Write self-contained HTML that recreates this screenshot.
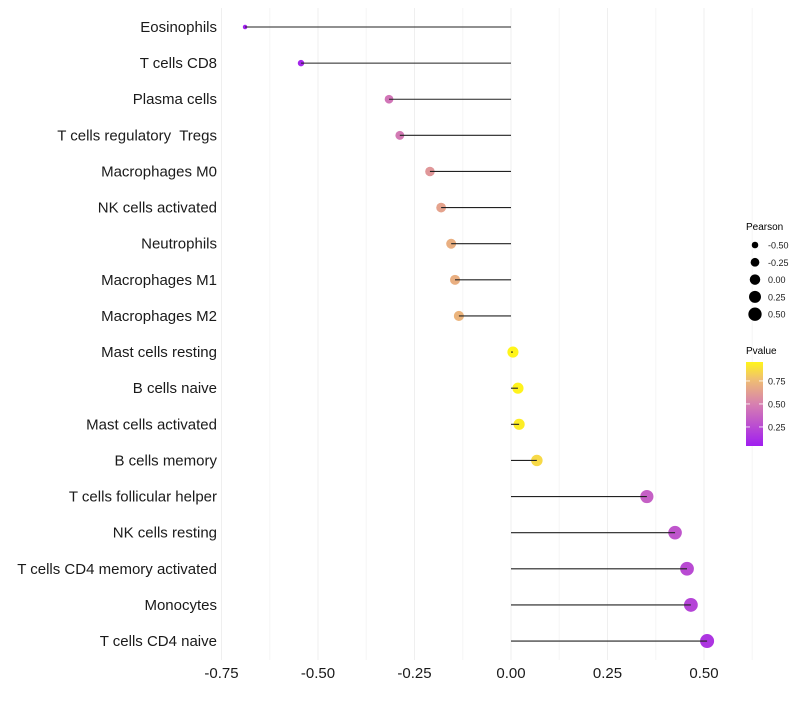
<!DOCTYPE html>
<html><head><meta charset="utf-8"><style>
body{margin:0;background:#fff;font-family:"Liberation Sans",sans-serif}
svg text{font-family:"Liberation Sans",sans-serif;white-space:pre}
</style></head><body>
<svg id="chart" width="800" height="700" xmlns="http://www.w3.org/2000/svg">
<defs><linearGradient id="pg" x1="0" y1="1" x2="0" y2="0">
<stop offset="0" stop-color="#a01ef0"/><stop offset="0.5" stop-color="#d780b0"/><stop offset="0.8" stop-color="#f0c070"/><stop offset="1" stop-color="#fff51a"/></linearGradient></defs>
<g id="grid"></g>
<g id="marks"></g>
<g id="ylab"></g>
<g id="xlab"></g>
<g id="sleg">
<text x="746" y="230" font-size="10">Pearson</text>
</g>
<g>
<text x="746" y="354" font-size="10">Pvalue</text>
<rect x="746" y="362" width="17" height="84" fill="url(#pg)"/>
<g id="cleg"></g>
</g>
</svg>
<script>
const categories=["Eosinophils","T cells CD8","Plasma cells","T cells regulatory  Tregs","Macrophages M0","NK cells activated","Neutrophils","Macrophages M1","Macrophages M2","Mast cells resting","B cells naive","Mast cells activated","B cells memory","T cells follicular helper","NK cells resting","T cells CD4 memory activated","Monocytes","T cells CD4 naive"];
const pearson=[-0.689,-0.544,-0.316,-0.288,-0.21,-0.181,-0.155,-0.145,-0.135,0.005,0.018,0.021,0.067,0.352,0.425,0.456,0.466,0.508];
const pvalue=[0.05,0.08,0.45,0.47,0.6,0.65,0.7,0.7,0.72,0.97,0.95,0.93,0.86,0.35,0.3,0.25,0.22,0.15];
const xTicks=[-0.75,-0.5,-0.25,0,0.25,0.5];
const xTickLabels=["-0.75","-0.50","-0.25","0.00","0.25","0.50"];
const sizeLegend=[-0.5,-0.25,0,0.25,0.5];
const sizeLegendLabels=["-0.50","-0.25","0.00","0.25","0.50"];
const colorTicks=[0.75,0.5,0.25];
const NS="http://www.w3.org/2000/svg";
const X=v=>511+v*386;
const Y=i=>27+i*36.12;
const R=v=>Math.sqrt(Math.max(2,30.5+37*v));
const stops=[[0,[160,30,240]],[0.5,[215,128,176]],[0.8,[240,192,112]],[1,[255,245,26]]];
function col(p){let t=(p-0.043)/(0.956-0.043);t=Math.max(0,Math.min(1,t));
for(let k=1;k<stops.length;k++){if(t<=stops[k][0]){const a=stops[k-1],b=stops[k],f=(t-a[0])/(b[0]-a[0]);
return "rgb("+a[1].map((c,j)=>Math.round(c+(b[1][j]-c)*f)).join(",")+")";}}return "rgb(255,245,26)";}
function el(tag,attrs,parent){const e=document.createElementNS(NS,tag);for(const k in attrs)e.setAttribute(k,attrs[k]);parent.appendChild(e);return e;}
const grid=document.getElementById('grid'),marks=document.getElementById('marks'),ylab=document.getElementById('ylab'),xlab=document.getElementById('xlab');
for(let v=-0.75;v<=0.625;v+=0.125){const g=el('line',{x1:X(v),x2:X(v),y1:8,y2:660,stroke:Math.abs((v*4)%1)<1e-6?'#efefef':'#f6f6f6','stroke-width':1},grid);

}
categories.forEach((c,i)=>{
const t=el('text',{x:217,y:Y(i)+5,'text-anchor':'end','font-size':15,fill:'#1a1a1a'},ylab);t.textContent=c;


const d=el('circle',{cx:X(pearson[i]),cy:Y(i),r:R(pearson[i]),fill:col(pvalue[i])},marks);


const l=el('line',{x1:X(0),x2:X(pearson[i]),y1:Y(i),y2:Y(i),stroke:'#222','stroke-width':1.1},marks);


});
xTicks.forEach((v,i)=>{const t=el('text',{x:X(v),y:678,'text-anchor':'middle','font-size':15,fill:'#1a1a1a'},xlab);t.textContent=xTickLabels[i];

});
const sleg=document.getElementById('sleg');
sizeLegend.forEach((v,i)=>{const y=245+i*17.3;
const c=el('circle',{cx:755,cy:y,r:R(v)*0.95,fill:'#000'},sleg);


const t=el('text',{x:768,y:y+3.5,'font-size':9,fill:'#1a1a1a'},sleg);t.textContent=sizeLegendLabels[i];

});
const cleg=document.getElementById('cleg');
colorTicks.forEach(p=>{const y=362+(0.956-p)/(0.956-0.043)*84;
el('line',{x1:746,x2:750,y1:y,y2:y,stroke:'#fff','stroke-width':0.8},cleg);el('line',{x1:759,x2:763,y1:y,y2:y,stroke:'#fff','stroke-width':0.8},cleg);
const t=el('text',{x:768,y:y+3.5,'font-size':9,fill:'#1a1a1a'},cleg);t.textContent=p.toFixed(2);

});
</script>
</body></html>
